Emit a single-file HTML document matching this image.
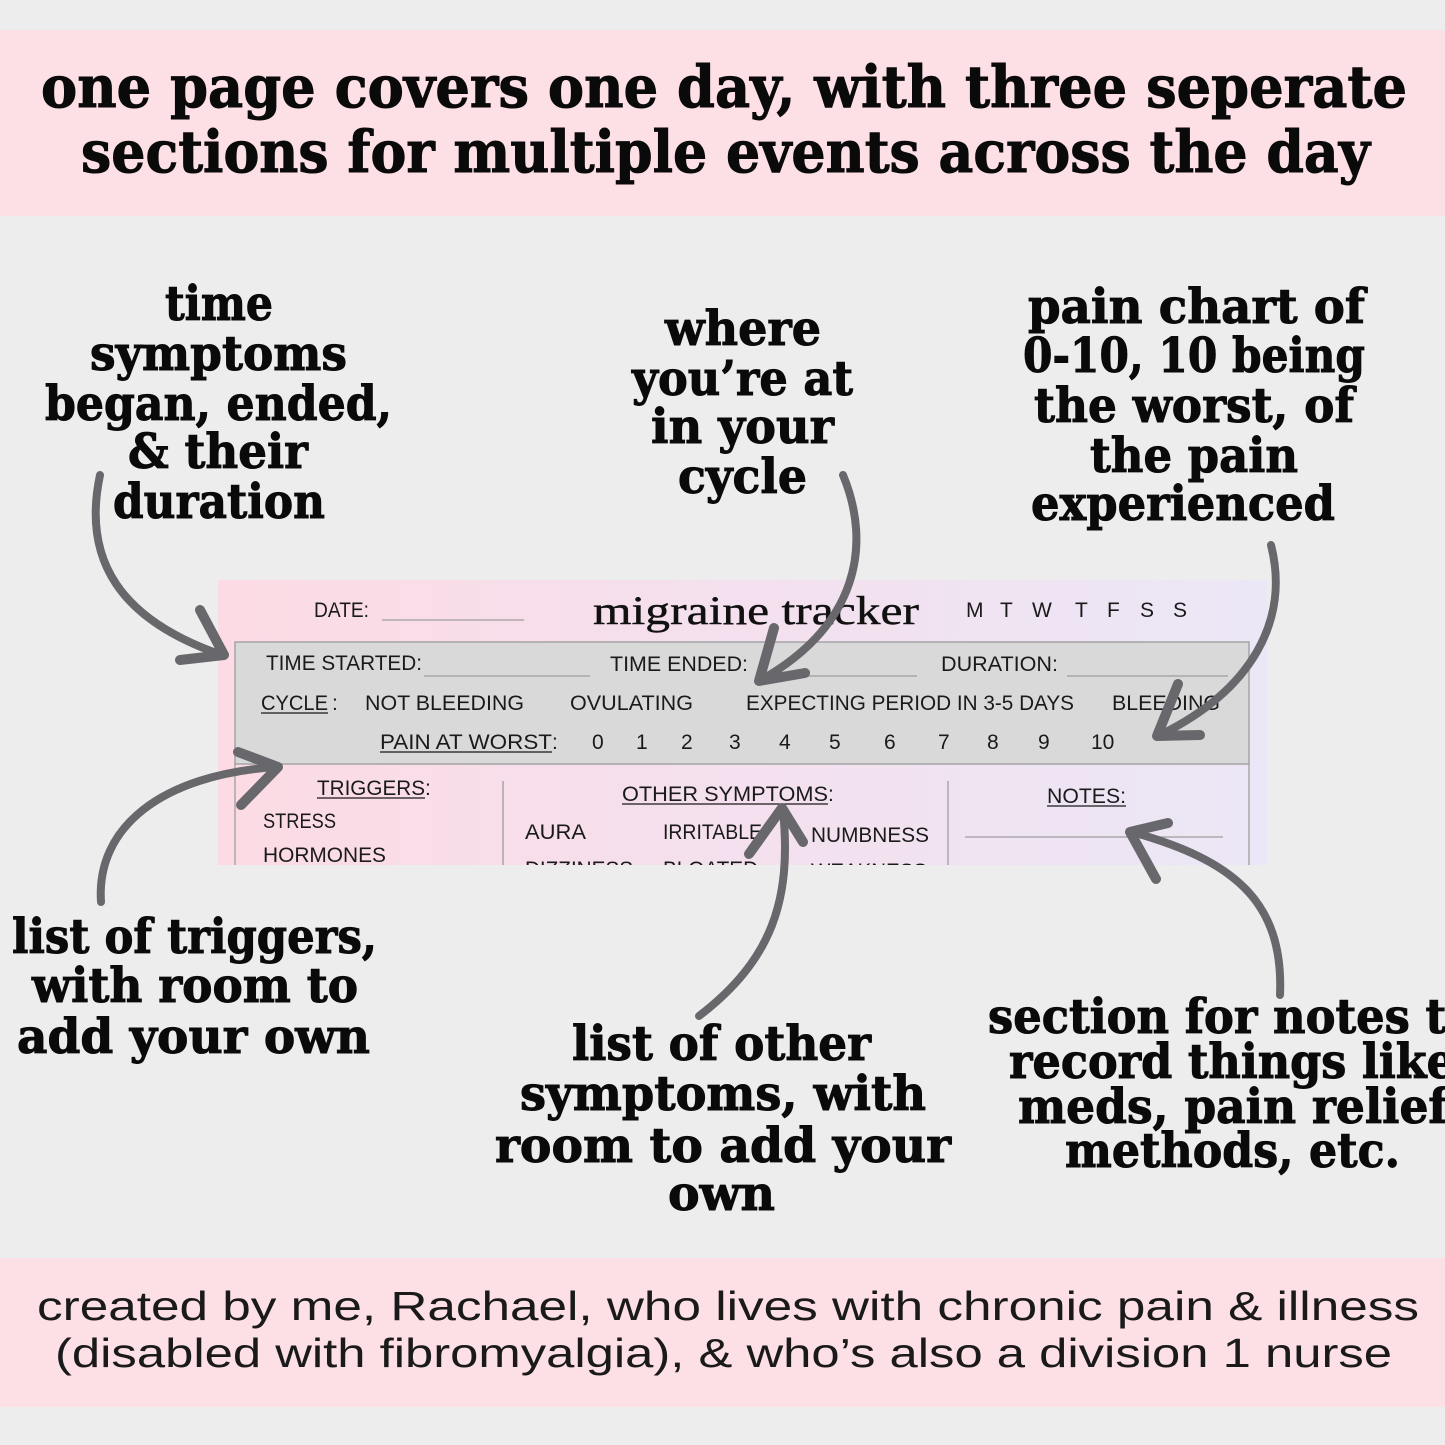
<!DOCTYPE html>
<html><head><meta charset="utf-8"><style>
html,body{margin:0;padding:0;background:#ededed;width:1445px;height:1445px;overflow:hidden}
svg{display:block}
.h{font-family:"DejaVu Serif","Liberation Serif",serif;font-weight:bold;fill:#0a0a0a;stroke:#0a0a0a;stroke-width:1}
.a{font-family:"DejaVu Serif","Liberation Serif",serif;font-weight:bold;fill:#0a0a0a;font-size:48px;stroke:#0a0a0a;stroke-width:1}
.t{font-family:"Liberation Sans",sans-serif;fill:#1a1a1a;font-size:21px}
.b{font-family:"Liberation Sans",sans-serif;fill:#1a1a1a;font-size:41px}
.arr{fill:none;stroke:#68676b;stroke-width:8;stroke-linecap:round;stroke-linejoin:round}
.hd{fill:none;stroke:#68676b;stroke-width:10;stroke-linecap:round;stroke-linejoin:round}
.ul{stroke:#1a1a1a;stroke-width:1.3}
.ln{stroke:#9e9e9e;stroke-width:1.3}
</style></head><body>
<svg width="1445" height="1445" viewBox="0 0 1445 1445" xmlns="http://www.w3.org/2000/svg">
<defs>
<linearGradient id="pg" x1="0" y1="0" x2="1" y2="0">
<stop offset="0" stop-color="#fcdbe4"/>
<stop offset="0.5" stop-color="#f4e0ee"/>
<stop offset="1" stop-color="#ebe7f6"/>
</linearGradient>
<clipPath id="cp"><rect x="218" y="580" width="1049" height="285"/></clipPath>
</defs>
<rect width="1445" height="1445" fill="#ededed"/>
<!-- top banner -->
<rect x="0" y="30" width="1445" height="186" fill="#fddfe6"/>
<text class="h" font-size="58" x="41" y="107" textLength="1366" lengthAdjust="spacingAndGlyphs">one page covers one day, with three seperate</text>
<text class="h" font-size="58" x="81" y="172" textLength="1289" lengthAdjust="spacingAndGlyphs">sections for multiple events across the day</text>

<!-- bottom banner -->
<rect x="0" y="1258" width="1445" height="149" fill="#fddfe6"/>
<text class="b" x="37" y="1320" textLength="1382" lengthAdjust="spacingAndGlyphs">created by me, Rachael, who lives with chronic pain &amp; illness</text>
<text class="b" x="55" y="1367" textLength="1337" lengthAdjust="spacingAndGlyphs">(disabled with fibromyalgia), &amp; who’s also a division 1 nurse</text>

<!-- tracker -->
<g clip-path="url(#cp)">
<rect x="218" y="580" width="1049" height="285" fill="url(#pg)"/>
<text class="t" font-size="19" x="314" y="617" textLength="55" lengthAdjust="spacingAndGlyphs">DATE:</text>
<line class="ln" x1="382" y1="620" x2="524" y2="620"/>
<text x="593" y="624" font-family="'Liberation Serif',serif" font-size="40" fill="#111" stroke="#111" stroke-width="0.4" textLength="326" lengthAdjust="spacingAndGlyphs">migraine tracker</text>
<g class="t" font-size="19">
<text x="966" y="617">M</text><text x="1000" y="617">T</text><text x="1032" y="617">W</text><text x="1075" y="617">T</text><text x="1107" y="617">F</text><text x="1140" y="617">S</text><text x="1173" y="617">S</text>
</g>
<rect x="235" y="642" width="1014" height="122" fill="#d9d9d9" stroke="#a4a4a4" stroke-width="1.5"/>
<line class="ln" x1="235" y1="764" x2="235" y2="870"/>
<line class="ln" x1="1249" y1="764" x2="1249" y2="870"/>
<line class="ln" x1="503" y1="781" x2="503" y2="870"/>
<line class="ln" x1="948" y1="781" x2="948" y2="870"/>
<text class="t" x="266" y="670" textLength="156" lengthAdjust="spacingAndGlyphs">TIME STARTED:</text>
<line class="ln" x1="424" y1="676" x2="590" y2="676"/>
<text class="t" x="610" y="671" textLength="138" lengthAdjust="spacingAndGlyphs">TIME ENDED:</text>
<line class="ln" x1="757" y1="676" x2="917" y2="676"/>
<text class="t" x="941" y="671" textLength="117" lengthAdjust="spacingAndGlyphs">DURATION:</text>
<line class="ln" x1="1067" y1="676" x2="1228" y2="676"/>
<text class="t" x="261" y="710" textLength="67" lengthAdjust="spacingAndGlyphs">CYCLE</text>
<line class="ul" x1="261" y1="713" x2="328" y2="713"/>
<text class="t" x="332" y="710">:</text>
<text class="t" x="365" y="710" textLength="159" lengthAdjust="spacingAndGlyphs">NOT BLEEDING</text>
<text class="t" x="570" y="710" textLength="123" lengthAdjust="spacingAndGlyphs">OVULATING</text>
<text class="t" x="746" y="710" textLength="328" lengthAdjust="spacingAndGlyphs">EXPECTING PERIOD IN 3-5 DAYS</text>
<text class="t" x="1112" y="710" textLength="108" lengthAdjust="spacingAndGlyphs">BLEEDING</text>
<text class="t" x="380" y="749" textLength="172" lengthAdjust="spacingAndGlyphs">PAIN AT WORST</text>
<line class="ul" x1="380" y1="752" x2="552" y2="752"/>
<text class="t" x="552" y="749">:</text>
<g class="t" font-size="23">
<text x="592" y="749">0</text><text x="636" y="749">1</text><text x="681" y="749">2</text><text x="729" y="749">3</text><text x="779" y="749">4</text><text x="829" y="749">5</text><text x="884" y="749">6</text><text x="938" y="749">7</text><text x="987" y="749">8</text><text x="1038" y="749">9</text><text x="1091" y="749">10</text>
</g>
<text class="t" x="317" y="795" textLength="108" lengthAdjust="spacingAndGlyphs">TRIGGERS</text>
<line class="ul" x1="317" y1="798" x2="425" y2="798"/>
<text class="t" x="425" y="795">:</text>
<text class="t" x="263" y="828" textLength="73" lengthAdjust="spacingAndGlyphs">STRESS</text>
<text class="t" x="263" y="862" textLength="123" lengthAdjust="spacingAndGlyphs">HORMONES</text>
<text class="t" x="622" y="801" textLength="206" lengthAdjust="spacingAndGlyphs">OTHER SYMPTOMS</text>
<line class="ul" x1="622" y1="804" x2="828" y2="804"/>
<text class="t" x="828" y="801">:</text>
<text class="t" x="525" y="839" textLength="61" lengthAdjust="spacingAndGlyphs">AURA</text>
<text class="t" x="663" y="839" textLength="99" lengthAdjust="spacingAndGlyphs">IRRITABLE</text>
<text class="t" x="811" y="842" textLength="118" lengthAdjust="spacingAndGlyphs">NUMBNESS</text>
<text class="t" x="525" y="876" textLength="108" lengthAdjust="spacingAndGlyphs">DIZZINESS</text>
<text class="t" x="663" y="876" textLength="95" lengthAdjust="spacingAndGlyphs">BLOATED</text>
<text class="t" x="811" y="878" textLength="116" lengthAdjust="spacingAndGlyphs">WEAKNESS</text>
<text class="t" x="1047" y="803" textLength="79" lengthAdjust="spacingAndGlyphs">NOTES:</text>
<line class="ul" x1="1047" y1="806" x2="1126" y2="806"/>
<line class="ln" x1="965" y1="837" x2="1223" y2="837"/>
</g>

<!-- annotations -->
<text class="a" x="165" y="320" textLength="108" lengthAdjust="spacingAndGlyphs">time</text>
<text class="a" x="90" y="370" textLength="257" lengthAdjust="spacingAndGlyphs">symptoms</text>
<text class="a" x="45" y="420" textLength="347" lengthAdjust="spacingAndGlyphs">began, ended,</text>
<text class="a" x="128" y="468" textLength="180" lengthAdjust="spacingAndGlyphs">&amp; their</text>
<text class="a" x="113" y="518" textLength="212" lengthAdjust="spacingAndGlyphs">duration</text>

<text class="a" x="665" y="345" textLength="156" lengthAdjust="spacingAndGlyphs">where</text>
<text class="a" x="632" y="395" textLength="221" lengthAdjust="spacingAndGlyphs">you’re at</text>
<text class="a" x="651" y="443" textLength="183" lengthAdjust="spacingAndGlyphs">in your</text>
<text class="a" x="678" y="493" textLength="129" lengthAdjust="spacingAndGlyphs">cycle</text>

<text class="a" x="1028" y="323" textLength="337" lengthAdjust="spacingAndGlyphs">pain chart of</text>
<text class="a" x="1023" y="372" textLength="342" lengthAdjust="spacingAndGlyphs">0-10, 10 being</text>
<text class="a" x="1034" y="422" textLength="320" lengthAdjust="spacingAndGlyphs">the worst, of</text>
<text class="a" x="1090" y="472" textLength="208" lengthAdjust="spacingAndGlyphs">the pain</text>
<text class="a" x="1031" y="520" textLength="304" lengthAdjust="spacingAndGlyphs">experienced</text>

<text class="a" x="12" y="953" textLength="365" lengthAdjust="spacingAndGlyphs">list of triggers,</text>
<text class="a" x="32" y="1002" textLength="326" lengthAdjust="spacingAndGlyphs">with room to</text>
<text class="a" x="17" y="1053" textLength="353" lengthAdjust="spacingAndGlyphs">add your own</text>

<text class="a" x="572" y="1060" textLength="299" lengthAdjust="spacingAndGlyphs">list of other</text>
<text class="a" x="520" y="1110" textLength="406" lengthAdjust="spacingAndGlyphs">symptoms, with</text>
<text class="a" x="495" y="1162" textLength="456" lengthAdjust="spacingAndGlyphs">room to add your</text>
<text class="a" x="668" y="1210" textLength="107" lengthAdjust="spacingAndGlyphs">own</text>

<text class="a" x="988" y="1033" textLength="488" lengthAdjust="spacingAndGlyphs">section for notes to</text>
<text class="a" x="1009" y="1078" textLength="446" lengthAdjust="spacingAndGlyphs">record things like</text>
<text class="a" x="1018" y="1123" textLength="430" lengthAdjust="spacingAndGlyphs">meds, pain relief</text>
<text class="a" x="1065" y="1167" textLength="335" lengthAdjust="spacingAndGlyphs">methods, etc.</text>

<!-- arrows -->
<path class="arr" d="M100,475 C 82,560 120,620 222,655"/>
<polyline class="hd" points="200,610 224,655 180,660"/>

<path class="arr" d="M843,475 C 872,545 858,625 761,680"/>
<polyline class="hd" points="774,628 759,681 805,673"/>

<path class="arr" d="M1271,545 C 1290,620 1252,690 1160,735"/>
<polyline class="hd" points="1178,684 1157,736 1200,735"/>

<path class="arr" d="M101,902 C 96,828 160,775 276,767"/>
<polyline class="hd" points="238,752 278,767 241,805"/>

<path class="arr" d="M699,1016 C 772,960 792,900 783,810"/>
<polyline class="hd" points="749,854 782,808 803,842"/>

<path class="arr" d="M1280,995 C 1284,900 1232,860 1132,832"/>
<polyline class="hd" points="1168,823 1130,832 1156,879"/>
</svg>
</body></html>
